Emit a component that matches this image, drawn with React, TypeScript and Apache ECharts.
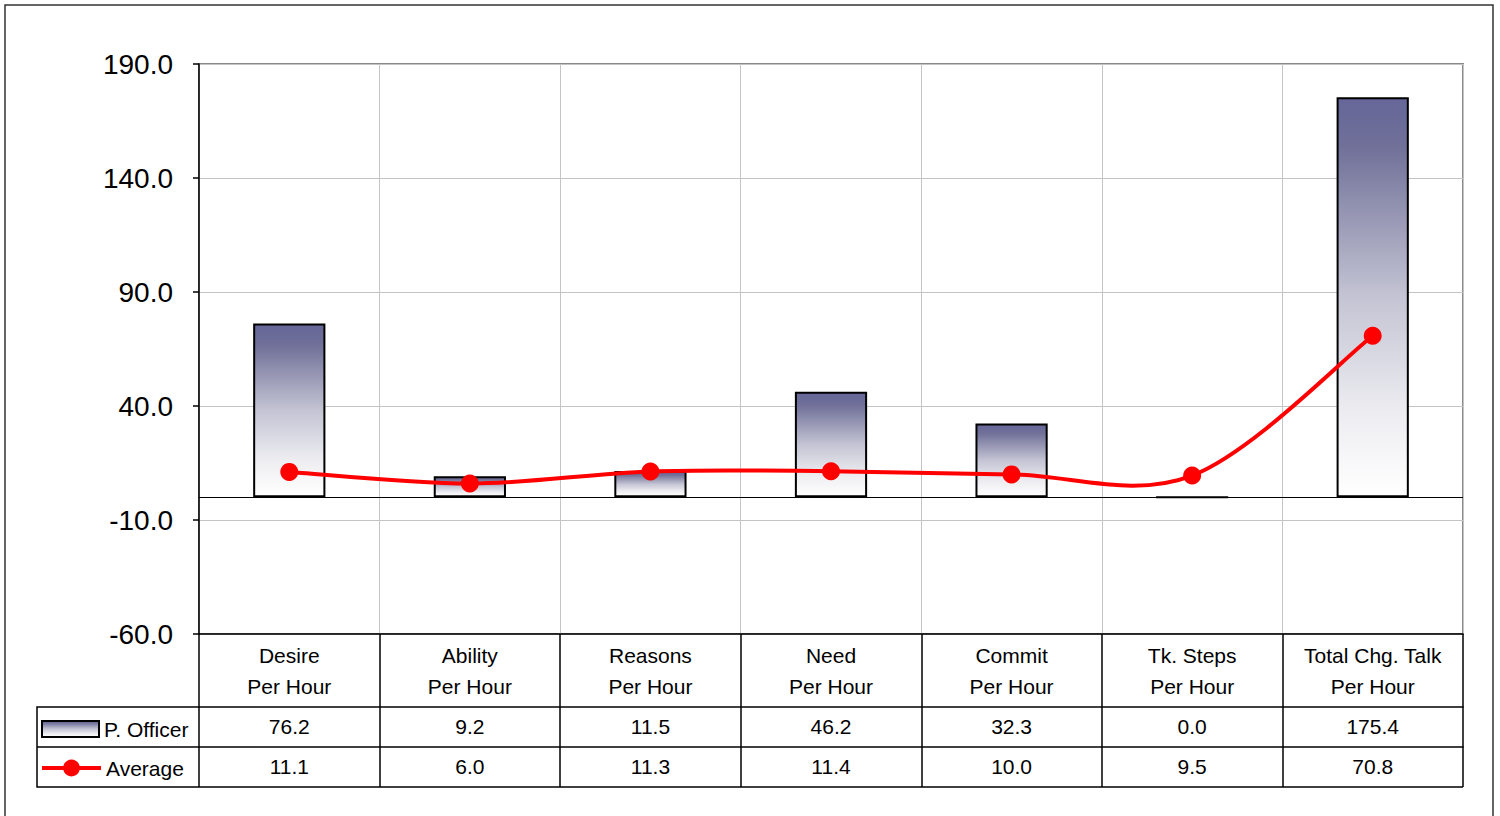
import React, { useEffect, useRef } from "react";
import * as echarts from "echarts";

// Category labels (two lines each), series values and y-axis range
const categories = [
  "Desire\nPer Hour",
  "Ability\nPer Hour",
  "Reasons\nPer Hour",
  "Need\nPer Hour",
  "Commit\nPer Hour",
  "Tk. Steps\nPer Hour",
  "Total Chg. Talk\nPer Hour",
];
const officerValues = [76.2, 9.2, 11.5, 46.2, 32.3, 0.0, 175.4];
const averageValues = [11.1, 6.0, 11.3, 11.4, 10.0, 9.5, 70.8];
const seriesNames = ["P. Officer", "Average"];
const yMin = -60;
const yMax = 190;
const yStep = 50;

const FONT = '"Liberation Sans", Arial, sans-serif';

// Plot-area layout in pixels
const GRID_LEFT = 199;
const GRID_TOP = 64;
const GRID_W = 1264;
const GRID_H = 570;
const ROW1 = 73; // category-name row height
const ROW = 40; // value row height
const LEGEND_LEFT = 37;

const RED = "#ff0000";

const barGradient = new echarts.graphic.LinearGradient(0, 0, 0, 1, [
  { offset: 0, color: "#666699" },
  { offset: 0.12, color: "#707099" },
  { offset: 0.5, color: "#c4c4d4" },
  { offset: 0.8, color: "#eeeef2" },
  { offset: 1, color: "#ffffff" },
]);

export default function App() {
  const ref = useRef<HTMLDivElement>(null);

  useEffect(() => {
    if (!ref.current) return;
    const chart = echarts.init(ref.current, undefined, { renderer: "svg" });

    const tableAxis = (
      labels: string[],
      offset: number,
      margin: number,
      tickLen: number,
      lineHeight: number
    ) => ({
      type: "category" as const,
      gridIndex: 0,
      position: "bottom" as const,
      offset,
      data: labels,
      boundaryGap: true,
      axisLine: { show: true, onZero: false, lineStyle: { color: "#000", width: 1.5 } },
      axisTick: {
        show: true,
        interval: 0,
        inside: false,
        length: tickLen,
        lineStyle: { color: "#000", width: 1.5 },
      },
      axisLabel: {
        show: true,
        interval: 0,
        margin,
        color: "#000",
        fontFamily: FONT,
        fontSize: 21,
        lineHeight,
      },
      splitLine: { show: false },
    });

    const bottomY = GRID_TOP + GRID_H + ROW1 + 2 * ROW;
    const n = averageValues.length;

    // Smoothed average curve: cubic Bezier segments with Catmull-Rom style control points
    const renderCurve = (params: any, api: any) => {
      const i = params.dataIndex;
      if (i >= n - 1) return null;
      const pt = (k: number) => api.coord([k, averageValues[k]]);
      const p0 = pt(Math.max(i - 1, 0));
      const p1 = pt(i);
      const p2 = pt(i + 1);
      const p3 = pt(Math.min(i + 2, n - 1));
      return {
        type: "bezierCurve",
        shape: {
          x1: p1[0],
          y1: p1[1],
          cpx1: p1[0] + (p2[0] - p0[0]) / 6,
          cpy1: p1[1] + (p2[1] - p0[1]) / 6,
          cpx2: p2[0] - (p3[0] - p1[0]) / 6,
          cpy2: p2[1] - (p3[1] - p1[1]) / 6,
          x2: p2[0],
          y2: p2[1],
        },
        style: { stroke: RED, lineWidth: 4, fill: "none", lineCap: "round" },
        silent: true,
      };
    };

    chart.setOption({
      animation: false,
      backgroundColor: "#fff",
      textStyle: { fontFamily: FONT },
      grid: {
        left: GRID_LEFT,
        top: GRID_TOP,
        width: GRID_W,
        height: GRID_H,
        show: true,
        borderColor: "#8a8a8a",
        borderWidth: 2,
        backgroundColor: "transparent",
      },
      legend: [
        {
          left: 41,
          top: 717,
          padding: 0,
          itemWidth: 57,
          itemHeight: 16,
          textStyle: { color: "#000", fontFamily: FONT, fontSize: 21, lineHeight: 24 },
          data: [{ name: seriesNames[0], icon: "rect" }],
        },
        {
          left: 40,
          top: 756,
          padding: 0,
          itemWidth: 59,
          itemHeight: 21,
          textStyle: { color: "#000", fontFamily: FONT, fontSize: 21, lineHeight: 24 },
          data: [
            {
              name: seriesNames[1],
              lineStyle: { color: RED, width: 4, opacity: 1 },
            },
          ],
        },
      ],
      xAxis: [
        {
          ...tableAxis(categories, 0, 6, ROW1, 31),
          splitLine: { show: true, interval: 0, lineStyle: { color: "#c4c4c4", width: 1 } },
        },
        tableAxis(officerValues.map((v) => v.toFixed(1)), ROW1, 9, ROW, 21),
        tableAxis(averageValues.map((v) => v.toFixed(1)), ROW1 + ROW, 9, ROW, 21),
      ],
      yAxis: {
        type: "value",
        min: yMin,
        max: yMax,
        interval: yStep,
        axisLine: { show: true, lineStyle: { color: "#000", width: 1.5 } },
        axisTick: { show: true, inside: false, length: 6, lineStyle: { color: "#000", width: 1.5 } },
        axisLabel: {
          color: "#000",
          fontFamily: FONT,
          fontSize: 28,
          margin: 26,
          formatter: (v: number) => v.toFixed(1),
        },
        splitLine: { show: true, lineStyle: { color: "#c4c4c4", width: 1 } },
      },
      series: [
        {
          name: seriesNames[0],
          type: "bar",
          xAxisIndex: 0,
          data: officerValues,
          barWidth: "40%",
          itemStyle: { color: barGradient, borderColor: "#000", borderWidth: 2 },
          markLine: {
            silent: true,
            symbol: ["none", "none"],
            label: { show: false },
            lineStyle: { color: "#000", width: 1, type: "solid" },
            data: [{ yAxis: 0 }],
          },
        },
        {
          type: "custom",
          xAxisIndex: 0,
          data: averageValues.map((v, i) => [i, v]),
          encode: { x: 0, y: 1 },
          renderItem: renderCurve,
          z: 4,
        },
        {
          name: seriesNames[1],
          type: "line",
          xAxisIndex: 0,
          data: averageValues,
          symbol: "circle",
          symbolSize: 18,
          z: 5,
          itemStyle: { color: RED },
          lineStyle: { color: RED, width: 4, opacity: 0 },
        },
      ],
      graphic: [
        // outer chart frame
        {
          type: "rect",
          shape: { x: 5, y: 5, width: 1488, height: 820 },
          style: { fill: "none", stroke: "#333", lineWidth: 1.5 },
          silent: true,
        },
        // legend cell of the data table
        {
          type: "polyline",
          shape: {
            points: [
              [GRID_LEFT, GRID_TOP + GRID_H + ROW1],
              [LEGEND_LEFT, GRID_TOP + GRID_H + ROW1],
              [LEGEND_LEFT, bottomY],
              [GRID_LEFT + GRID_W, bottomY],
            ],
          },
          style: { fill: "none", stroke: "#000", lineWidth: 1.5 },
          silent: true,
        },
        {
          type: "line",
          shape: {
            x1: LEGEND_LEFT,
            y1: GRID_TOP + GRID_H + ROW1 + ROW,
            x2: GRID_LEFT,
            y2: GRID_TOP + GRID_H + ROW1 + ROW,
          },
          style: { stroke: "#000", lineWidth: 1.5 },
          silent: true,
        },
      ],
    });

    return () => chart.dispose();
  }, []);

  return (
    <div
      ref={ref}
      style={{ position: "fixed", left: 0, top: 0, width: 1500, height: 816, background: "#fff" }}
    />
  );
}
